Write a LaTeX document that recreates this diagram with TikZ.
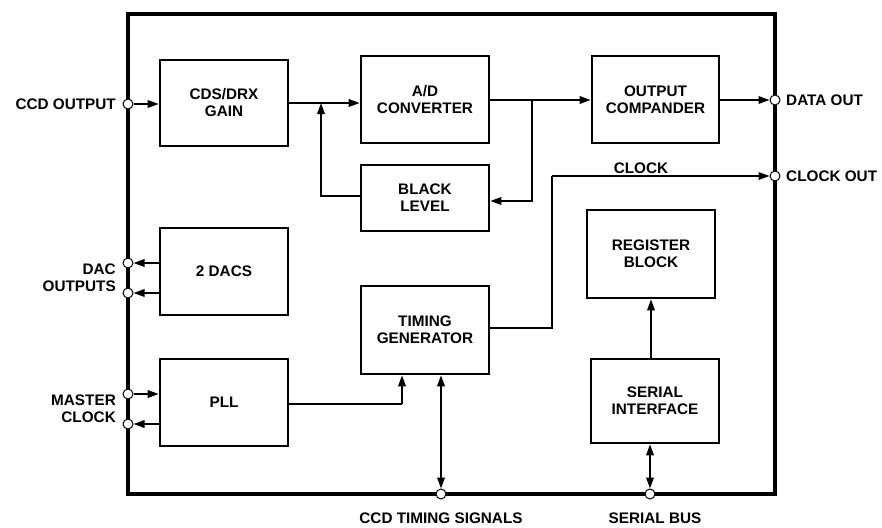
\documentclass[tikz,border=0pt]{standalone}
\usepackage{fontspec}
\setmainfont{Liberation Sans}
\usetikzlibrary{arrows.meta}
\begin{document}
\begin{tikzpicture}[x=1pt,y=-1pt,
  every node/.style={font=\bfseries\fontsize{15.3}{17}\selectfont},
  blk/.style={draw,line width=2.6pt,minimum width=128pt,align=center,inner sep=0pt},
  pin/.style={circle,draw,fill=white,line width=1pt,minimum size=10pt,inner sep=0pt},
  conn/.style={line width=1.8pt},
  arr/.style={conn,-{Triangle[length=11pt,width=7.5pt]}},
  darr/.style={conn,{Triangle[length=11pt,width=7.5pt]}-{Triangle[length=11pt,width=7.5pt]}},
  lbl/.style={align=center,inner sep=0pt}
]
\useasboundingbox (0,0) rectangle (882,527);
% outer chip boundary
\draw[line width=4.5pt] (128,14) rectangle (775,494);
% blocks
\node[blk,minimum height=86pt] (cds) at (224,103) {CDS/DRX\\GAIN};
\node[blk,minimum height=87pt] (ad) at (425,99.5) {A/D\\CONVERTER};
\node[blk,minimum height=66pt] (bl) at (425,198) {BLACK\\LEVEL};
\node[blk,minimum height=87pt,minimum width=127pt] (comp) at (655.5,99.5) {OUTPUT\\COMPANDER};
\node[blk,minimum height=87pt] (dacs) at (224,271.5) {2 DACS};
\node[blk,minimum height=87pt] (pll) at (224,402.5) {PLL};
\node[blk,minimum height=88pt] (tg) at (425,330) {TIMING\\GENERATOR};
\node[blk,minimum height=88pt] (reg) at (651,254) {REGISTER\\BLOCK};
\node[blk,minimum height=84pt] (ser) at (655,401) {SERIAL\\INTERFACE};
% junction coordinates
\coordinate (j1) at (321,103);
\coordinate (j1b) at (321,196);
\coordinate (j2) at (532,100);
\coordinate (j2b) at (532,201);
\coordinate (c1) at (552,328);
\coordinate (c2) at (552,176);
\coordinate (p1) at (402,404);
% connectors
\draw[conn] (cds.east |- j1) -- (j1);
\draw[arr] (j1) -- (j1 -| ad.west);
\draw[arr] (j1b -| bl.west) -- (j1b) -- (j1);
\draw[conn] (ad.east |- j2) -- (j2);
\draw[arr] (j2) -- (j2 -| comp.west);
\draw[arr] (j2) -- (j2b) -- (j2b -| bl.east);
\draw[conn] (c1 -| tg.east) -- (c1) -- (c2);
\draw[conn] (pll.east |- p1) -- (p1);
\draw[arr] (p1) -- (p1 |- tg.south);
\draw[arr] (ser.north -| 651,0) -- (reg.south -| 651,0);
% pins
\node[pin] (ccdout) at (128,104) {};
\node[pin] (dac1) at (128,263) {};
\node[pin] (dac2) at (128,293) {};
\node[pin] (mc1) at (128,394) {};
\node[pin] (mc2) at (128,424) {};
\node[pin] (dataout) at (775,100) {};
\node[pin] (clkout) at (775,176) {};
\node[pin] (ccdt) at (441,494) {};
\node[pin] (sbus) at (650,494) {};
% pin connectors
\draw[arr] (ccdout) -- (ccdout -| cds.west);
\draw[arr] (dac1 -| dacs.west) -- (dac1);
\draw[arr] (dac2 -| dacs.west) -- (dac2);
\draw[arr] (mc1) -- (mc1 -| pll.west);
\draw[arr] (mc2 -| pll.west) -- (mc2);
\draw[arr] (dataout -| comp.east) -- (dataout);
\draw[arr] (c2) -- (clkout);
\draw[darr] (ccdt |- tg.south) -- (ccdt);
\draw[darr] (sbus |- ser.south) -- (sbus);
% labels
\node[lbl,anchor=east] (lccd) at (116,104) {CCD OUTPUT};
\node[lbl,anchor=east,align=right] (ldac) at (116,278) {DAC\\OUTPUTS};
\node[lbl,anchor=east,align=right] (lmc) at (116,409) {MASTER\\CLOCK};
\node[lbl,anchor=west] (ldata) at (786,100) {DATA OUT};
\node[lbl,anchor=west] (lclk) at (786,176) {CLOCK OUT};
\node[lbl] (lclock) at (641,168) {CLOCK};
\node[lbl] (lccdt) at (441,518) {CCD TIMING SIGNALS};
\node[lbl] (lsbus) at (655,518) {SERIAL BUS};
\end{tikzpicture}
\end{document}
